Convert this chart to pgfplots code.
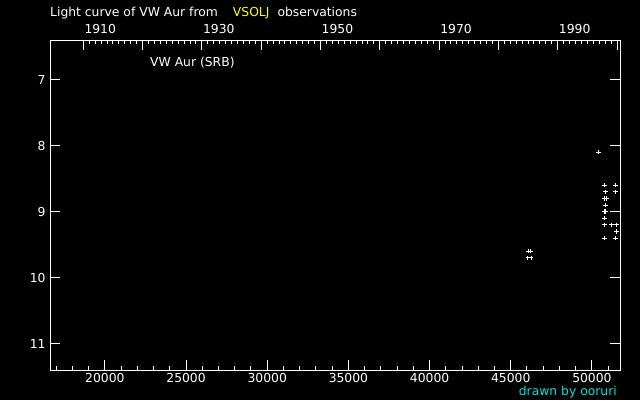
\documentclass[border=0pt]{standalone}
\usepackage{fontspec}
\setmainfont{DejaVu Sans}
\usepackage{pgfplots}
\pgfplotsset{compat=1.18}
\definecolor{vsyellow}{RGB}{255,255,0}
\definecolor{drawncyan}{RGB}{0,224,224}
\begin{document}
\begin{tikzpicture}[x=1bp,y=1bp]
\path[use as bounding box, fill=black] (0,0) rectangle (640,400);
\begin{axis}[
  at={(50bp,30bp)}, anchor=south west, scale only axis,
  width=570bp, height=330bp,
  xmin=16620, xmax=51730, ymin=6.4, ymax=11.4, y dir=reverse,
  scaled x ticks=false,
  axis line style={white, line width=1bp},
  tick style={white, line width=1bp},
  tick align=inside,
  xtick={20000,25000,...,50000},
  minor xtick={17000,18000,...,51000},
  xtick pos=left, xticklabel pos=left,
  ytick={7,8,9,10,11},
  ytick pos=both, yticklabel pos=left,
  major tick length=10bp, minor tick length=4bp,
  ticklabel style={white, font=\fontsize{12.4}{14}\selectfont},
  xticklabel style={yshift=0bp},
  yticklabel style={xshift=-1bp},
  /pgf/number format/assume math mode=true,
  /pgf/number format/1000 sep={},
  clip=false,
]
\addplot[only marks, mark=+, mark size=2.2bp, white, line width=1bp] coordinates {
(50395,8.1)
(50765,8.6) (51443,8.6)
(50827,8.7) (51443,8.7)
(50765,8.8) (50890,8.8)
(50827,8.9)
(50765,9.0) (50827,9.0)
(50765,9.1)
(50765,9.2) (51197,9.2) (51505,9.2)
(51505,9.3)
(50765,9.4) (51443,9.4)
(46096,9.6) (46220,9.6)
(46050,9.7) (46250,9.7)
};
\end{axis}
\begin{axis}[
  at={(50bp,30bp)}, anchor=south west, scale only axis,
  width=570bp, height=330bp,
  xmin=1904.38, xmax=2000.50, ymin=0, ymax=1,
  hide y axis,
  axis line style={draw=none},
  tick style={white, line width=1bp},
  tick align=inside,
  xtick={1910,1920,...,2000},
  xticklabels={1910,,1930,,1950,,1970,,1990,},
  minor xtick={1911,1912,...,1999},
  xtick pos=right, xticklabel pos=right,
  major tick length=10bp, minor tick length=4bp,
  ticklabel style={white, font=\fontsize{12.4}{14}\selectfont},
  xticklabel style={anchor=south west, inner sep=0pt, xshift=1bp, yshift=6bp},
  /pgf/number format/assume math mode=true,
  /pgf/number format/1000 sep={},
]
\addplot[draw=none] coordinates {(1950,0.5)};
\end{axis}
\node[anchor=base west, white, inner sep=0pt, font=\fontsize{12.4}{14}\selectfont] at (50,384)
  {Light curve of VW Aur from\hspace{15bp}\textcolor{vsyellow}{VSOLJ}\hspace{8bp}observations};
\node[anchor=base west, white, inner sep=0pt, font=\fontsize{12.4}{14}\selectfont] at (150,334) {VW Aur (SRB)};
\node[anchor=base east, drawncyan, inner sep=0pt, font=\fontsize{12.4}{14}\selectfont] at (617,5) {drawn by ooruri};
\end{tikzpicture}
\end{document}
